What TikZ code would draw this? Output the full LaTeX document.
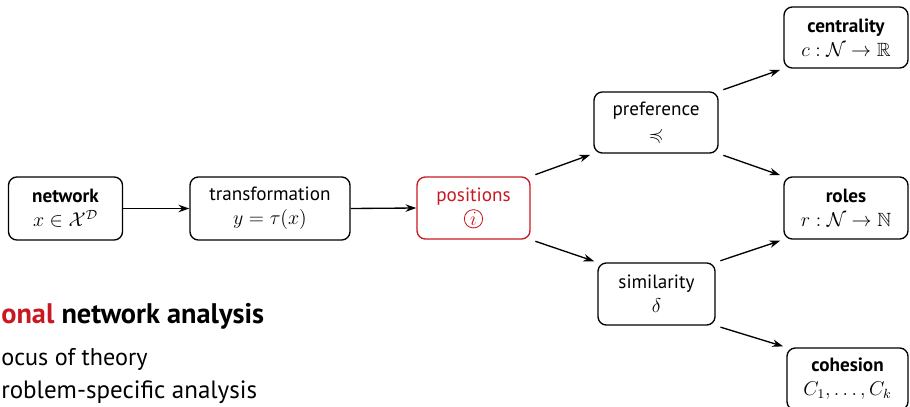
\documentclass[tikz,border=0pt]{standalone}
\usepackage{amsmath,amssymb}
\usepackage{fontspec}
\setmainfont{PT Sans}
\usetikzlibrary{arrows.meta}
\definecolor{accent}{RGB}{200,25,35}
\begin{document}
\begin{tikzpicture}[x=0.6pt,y=-0.6pt,
  box/.style={draw, line width=0.8pt, rounded corners=5pt, align=center,
    inner sep=0pt, font=\fontsize{11.5}{14.5}\selectfont},
  conn/.style={-{Stealth[length=6.5pt,width=4.5pt]}, line width=0.8pt},
  side/.style={anchor=base west, inner sep=0pt, font=\fontsize{15}{17}\selectfont}]
\useasboundingbox (0,0) rectangle (910,407);
% pipeline boxes
\node[box, minimum width=68.4pt, minimum height=37.8pt] (net) at (65.5,208.5)
  {\textbf{network}\\$x\in\mathcal{X}^{\mathcal{D}}$};
\node[box, minimum width=96pt, minimum height=37.8pt] (trans) at (270,208.5)
  {transformation\\$y=\tau(x)$};
\node[box, draw=accent, text=accent, minimum width=67.8pt, minimum height=37.2pt] (pos) at (473.5,208)
  {positions\\\tikz[baseline=(c.base)]\node[circle,draw=accent,line width=0.5pt,inner sep=0.6pt,minimum size=11pt] (c) {$i$};};
\node[box, minimum width=74.4pt, minimum height=36.6pt] (pref) at (656,122.5)
  {preference\\$\preccurlyeq$};
\node[box, minimum width=70.2pt, minimum height=37.2pt] (sim) at (656.5,294)
  {similarity\\$\delta$};
\node[box, minimum width=74.4pt, minimum height=36.6pt] (cent) at (846,37.5)
  {\textbf{centrality}\\$c:\mathcal{N}\to\mathbb{R}$};
\node[box, minimum width=74.4pt, minimum height=37.2pt] (roles) at (846,208)
  {\textbf{roles}\\$r:\mathcal{N}\to\mathbb{N}$};
\node[box, minimum width=72.6pt, minimum height=37.2pt] (coh) at (847.5,379)
  {\textbf{cohesion}\\$C_1,\dots,C_k$};
% connectors
\draw[conn] (net.east) -- (trans.west);
\draw[conn] (trans.east) -- (pos.west);
\draw[conn, shorten <=3pt, shorten >=2pt] (pos.north east) -- (pref.south west);
\draw[conn, shorten <=3pt, shorten >=2pt] (pos.south east) -- (sim.north west);
\draw[conn, shorten <=3pt, shorten >=2pt] (pref.north east) -- (cent.south west);
\draw[conn, shorten <=3pt, shorten >=2pt] (pref.south east) -- (roles.north west);
\draw[conn, shorten <=3pt, shorten >=2pt] (sim.north east) -- (roles.south west);
\draw[conn, shorten <=3pt, shorten >=2pt] (sim.south east) -- (coh.north west);
% side text
\node[side, font=\fontsize{17}{19}\selectfont\bfseries] (t1) at (1,323)
  {\textcolor{accent}{onal} network analysis};
\node[side, font=\fontsize{14.5}{17}\selectfont] (t2) at (1,365) {ocus of theory};
\node[side] (t3) at (1,398) {roblem-specific analysis};
\end{tikzpicture}
\end{document}
